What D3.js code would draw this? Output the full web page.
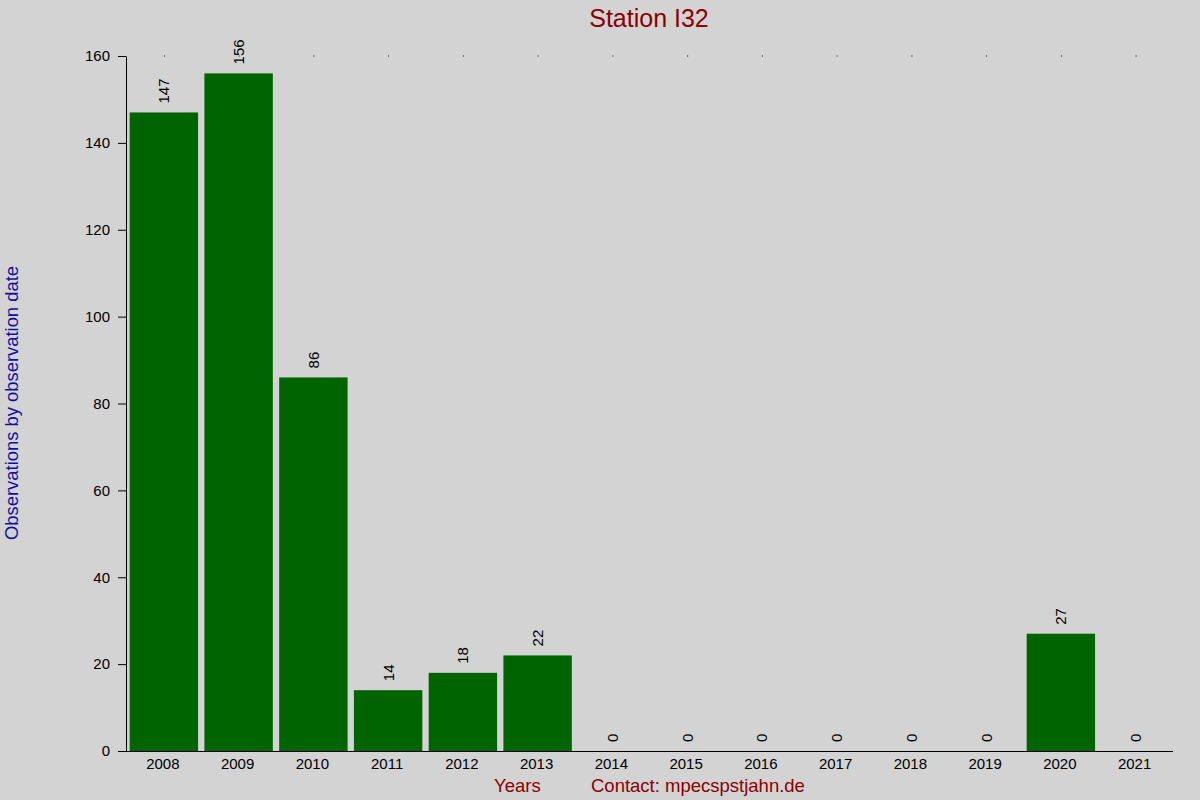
<!DOCTYPE html>
<html><head><meta charset="utf-8">
<script src="https://cdn.jsdelivr.net/npm/d3@7"></script>
<style>body{margin:0;background:#d3d3d3}svg{display:block}text{font-family:"Liberation Sans",Arial,sans-serif}</style>
</head><body>
<svg id="c" width="1200" height="800"></svg>
<script>
const years = ["2008","2009","2010","2011","2012","2013","2014","2015","2016","2017","2018","2019","2020","2021"];
const counts = [147,156,86,14,18,22,0,0,0,0,0,0,27,0];
const yTicks = [0,20,40,60,80,100,120,140,160];
const title = "Station I32";

const svg = d3.select("#c");
svg.append("rect").attr("width",1200).attr("height",800).attr("fill","#d3d3d3");

const x = d3.scaleBand().domain(years).range([126.5,1173]).paddingInner(0.085).paddingOuter(0.0425);
const y = d3.scaleLinear().domain([0,160]).range([751,56]);

// bars
svg.selectAll("rect.bar").data(years).join("rect").attr("class","bar")
  .attr("x",d=>x(d)).attr("width",x.bandwidth())
  .attr("y",(d,i)=>y(counts[i])).attr("height",(d,i)=>y(0)-y(counts[i]))
  .attr("fill","#006400");

// value labels
svg.selectAll("text.val").data(years).join("text").attr("class","val")
  .attr("transform",(d,i)=>`translate(${x(d)+x.bandwidth()/2+5.5},${y(counts[i])-9}) rotate(-90)`)
  .attr("font-size",15).attr("fill","#000").text((d,i)=>counts[i]);

// top dots
svg.selectAll("rect.dot").data(years).join("rect").attr("class","dot")
  .attr("x",d=>x(d)+x.bandwidth()/2).attr("y",55.5).attr("width",1).attr("height",1).attr("fill","#000");

// y axis
const ya = svg.append("g").attr("transform","translate(126,0)")
  .call(d3.axisLeft(y).tickValues(yTicks).tickSize(8).tickPadding(8).tickSizeOuter(0));
ya.select(".domain").attr("stroke","#000");
ya.selectAll("text").attr("font-size",15).attr("fill","#000").style("font-family","'Liberation Sans',Arial,sans-serif");

// x axis
const xa = svg.append("g").attr("transform","translate(-1,751)")
  .call(d3.axisBottom(x).tickSize(0).tickPadding(7));
xa.select(".domain").remove();
xa.selectAll("text").attr("font-size",15).attr("fill","#000").style("font-family","'Liberation Sans',Arial,sans-serif");
svg.append("line").attr("x1",118).attr("x2",1173).attr("y1",751.5).attr("y2",751.5).attr("stroke","#000");

// title
svg.append("text").attr("x",649).attr("y",27).attr("text-anchor","middle")
  .attr("font-size",25).attr("fill","#8b0000").text(title);
// y label
svg.append("text").attr("transform","translate(18,403) rotate(-90)").attr("text-anchor","middle")
  .attr("font-size",18.4).attr("fill","#1010a0").text("Observations by observation date");
// bottom labels
svg.append("text").attr("x",494).attr("y",792).attr("font-size",18.5).attr("fill","#8b0000").text("Years");
svg.append("text").attr("x",591).attr("y",792).attr("font-size",18.5).attr("fill","#8b0000").text("Contact: mpecspstjahn.de");
</script>
</body></html>
